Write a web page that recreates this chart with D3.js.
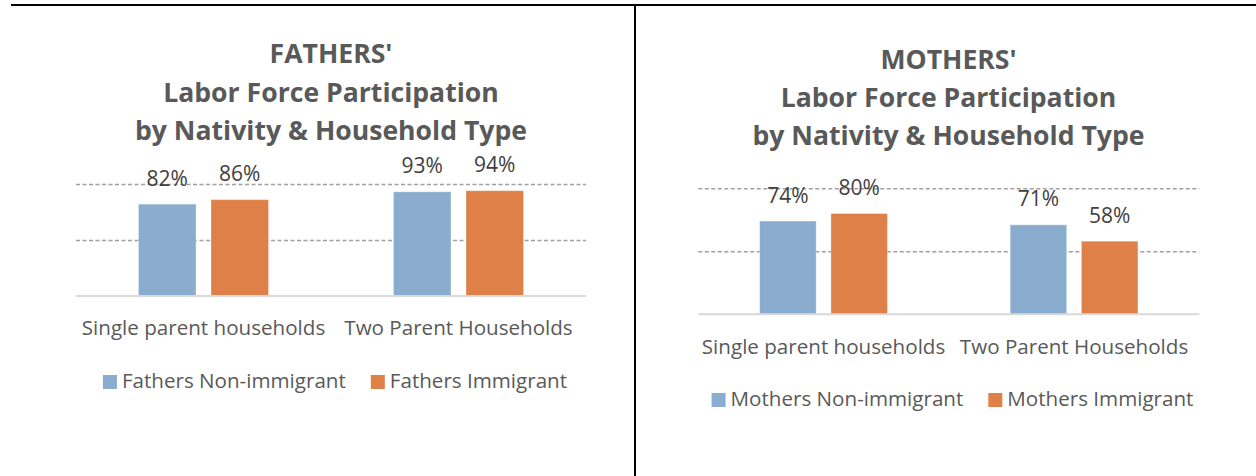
<!DOCTYPE html>
<html>
<head>
<meta charset="utf-8">
<script src="https://cdn.jsdelivr.net/npm/d3@7"></script>
<style>
    body { margin: 0; background: #fff; }
    svg { display: block; font-family: "Open Sans", "Noto Sans", sans-serif; }
    .title { font-weight: bold; fill: #595959; }
    .cat-label, .legend-label { fill: #595959; }
    .value-label { fill: #404040; }
    .grid line { stroke: #a0a0a0; stroke-width: 1.6; stroke-dasharray: 4, 2.5; }
</style>
</head>
<body>
<svg id="chart" width="1256" height="476"></svg>
<script>
// Household types (x categories)
const categories = ["Single parent households", "Two Parent Households"];

// Fathers' participation rates
const fathersSeries = ["Fathers Non-immigrant", "Fathers Immigrant"];
const fathersNonImmigrant = [0.82, 0.93];
const fathersImmigrant = [0.86, 0.94];

// Mothers' participation rates
const mothersSeries = ["Mothers Non-immigrant", "Mothers Immigrant"];
const mothersNonImmigrant = [0.74, 0.71];
const mothersImmigrant = [0.80, 0.58];

// Gridline values
const gridTicks = [0.5, 1.0];

const colors = ["#8aadcf", "#de8047"];
const svg = d3.select("#chart");

// Frame lines round the two charts
svg.append("line")
    .attr("x1", 11).attr("x2", 1256)
    .attr("y1", 5).attr("y2", 5)
    .attr("stroke", "#000").attr("stroke-width", 2);
svg.append("line")
    .attr("x1", 635).attr("x2", 635)
    .attr("y1", 4).attr("y2", 476)
    .attr("stroke", "#000").attr("stroke-width", 2);

function drawChart(cfg) {
    let g = svg.append("g");

    let x0 = d3.scaleBand()
        .domain(categories)
        .range([cfg.left, cfg.right])
        .paddingInner(0.49)
        .paddingOuter(0.245);

    let x1 = d3.scaleBand()
        .domain(cfg.series)
        .range([0, x0.bandwidth()])
        .paddingInner(0.207);

    let y = d3.scaleLinear()
        .domain([0, 1])
        .range([cfg.bottom, cfg.top]);

    // Title, three lines
    cfg.title.forEach((t, i) => {
        g.append("text")
            .attr("class", "title")
            .attr("x", cfg.titleX)
            .attr("y", cfg.titleY[i])
            .attr("text-anchor", "middle")
            .style("font-size", "26.6px")
            .text(t);
    });

    // Dashed gridlines
    g.append("g")
        .attr("class", "grid")
        .attr("transform", `translate(${cfg.left},0)`)
        .call(d3.axisLeft(y).tickValues(gridTicks).tickSize(-(cfg.right - cfg.left)).tickFormat(""))
        .call(a => a.select(".domain").remove());

    // Bars
    let rows = categories.map((c, i) => ({
        cat: c,
        values: cfg.series.map((s, j) => ({ series: s, value: cfg.values[j][i], idx: j }))
    }));

    let groups = g.selectAll(".cat")
        .data(rows)
        .enter()
        .append("g")
        .attr("transform", d => `translate(${x0(d.cat)},0)`);

    groups.selectAll("rect")
        .data(d => d.values)
        .enter()
        .append("rect")
        .attr("x", d => x1(d.series))
        .attr("y", d => y(d.value))
        .attr("width", x1.bandwidth())
        .attr("height", d => y(0) - y(d.value))
        .attr("fill", d => colors[d.idx])
        .attr("stroke", "#fff")
        .attr("stroke-opacity", 0.3)
        .attr("stroke-width", 1);

    groups.selectAll(".value-label")
        .data(d => d.values)
        .enter()
        .append("text")
        .attr("class", "value-label")
        .attr("x", d => x1(d.series) + x1.bandwidth() / 2)
        .attr("y", d => y(d.value) - 18.5)
        .attr("text-anchor", "middle")
        .style("font-size", "21px")
        .text(d => d3.format(".0%")(d.value));

    // Baseline
    g.append("line")
        .attr("x1", cfg.left).attr("x2", cfg.right)
        .attr("y1", y(0)).attr("y2", y(0))
        .attr("stroke", "#d9d9d9").attr("stroke-width", 2);

    // Category labels
    g.selectAll(".cat-label")
        .data(categories)
        .enter()
        .append("text")
        .attr("class", "cat-label")
        .attr("x", d => x0(d) + x0.bandwidth() / 2)
        .attr("y", cfg.catY)
        .attr("text-anchor", "middle")
        .style("font-size", "20.6px")
        .text(d => d);

    // Legend, centred on legendX
    let legend = g.append("g");
    let xPos = 0;
    cfg.series.forEach((s, i) => {
        let item = legend.append("g").attr("transform", `translate(${xPos},0)`);
        item.append("rect")
            .attr("x", 0)
            .attr("y", cfg.legendY - 12.5)
            .attr("width", 14).attr("height", 14)
            .attr("fill", colors[i]);
        let txt = item.append("text")
            .attr("class", "legend-label")
            .attr("x", 19)
            .attr("y", cfg.legendY)
            .style("font-size", "20.6px")
            .text(s);
        xPos += 19 + txt.node().getComputedTextLength() + 25;
    });
    let total = xPos - 25;
    legend.attr("transform", `translate(${cfg.legendX - total / 2},0)`);
}

drawChart({
    title: ["FATHERS'", "Labor Force Participation", "by Nativity & Household Type"],
    titleX: 331,
    titleY: [63.3, 101.7, 140],
    series: fathersSeries,
    values: [fathersNonImmigrant, fathersImmigrant],
    left: 76, right: 586, top: 184, bottom: 296,
    catY: 335,
    legendY: 387.5,
    legendX: 335
});

drawChart({
    title: ["MOTHERS'", "Labor Force Participation", "by Nativity & Household Type"],
    titleX: 948.5,
    titleY: [68.5, 106.5, 145],
    series: mothersSeries,
    values: [mothersNonImmigrant, mothersImmigrant],
    left: 698.3, right: 1199.3, top: 188.3, bottom: 314.3,
    catY: 353.5,
    legendY: 405.5,
    legendX: 952.5
});
</script>
</body>
</html>
